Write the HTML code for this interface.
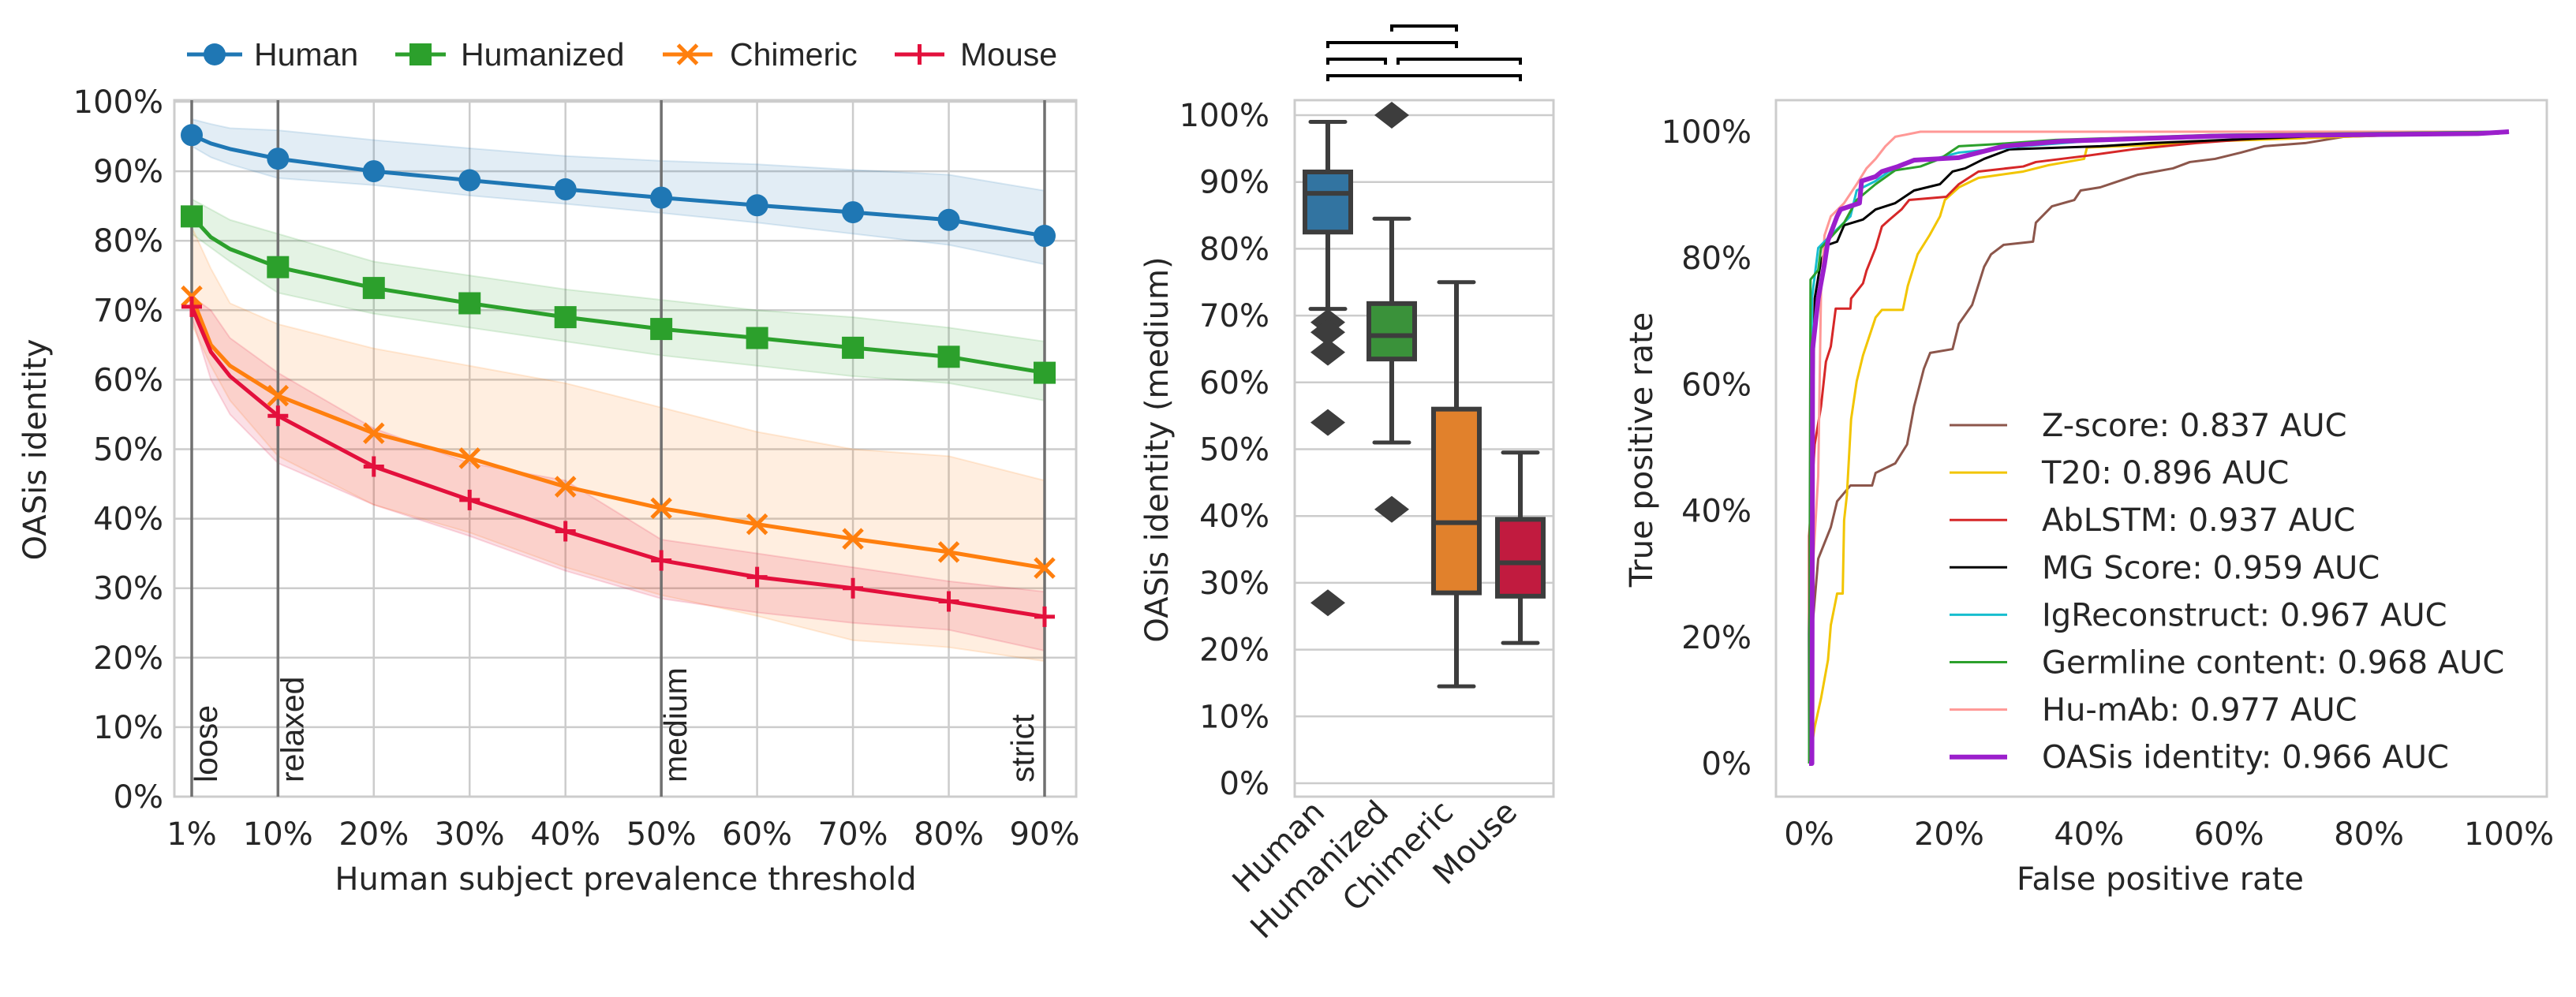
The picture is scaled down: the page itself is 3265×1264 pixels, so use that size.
<!DOCTYPE html>
<html><head><meta charset="utf-8"><style>
html,body{margin:0;padding:0;background:#fff;}
svg{display:block;}
.tk{font-family:"DejaVu Sans",sans-serif;font-size:40px;fill:#262626;}
.ar{font-family:"Liberation Sans",sans-serif;fill:#262626;}
</style></head><body>
<svg id="fig" width="3265" height="1264" viewBox="0 0 3265 1264" xmlns="http://www.w3.org/2000/svg"></svg>
<script>
// ---------- Panel 1 data ----------
const p1Thresholds = [1,3,5,10,20,30,40,50,60,70,80,90];
const p1Ticks = [1,10,20,30,40,50,60,70,80,90];
const p1TickLabels = ["1%","10%","20%","30%","40%","50%","60%","70%","80%","90%"];
const p1MarkerX = [1,10,20,30,40,50,60,70,80,90];
const p1YTicks = [0,10,20,30,40,50,60,70,80,90,100];
const humanMean = [95.2,94,93.2,91.8,90,88.7,87.4,86.2,85.1,84.1,83,80.7];
const humanUp   = [97.5,96.8,96.2,95.9,94.5,93.3,92.2,91.5,91,90.2,89.5,87.2];
const humanLo   = [93.6,92,91,89,88,86.5,85.3,84,82.6,81,79.4,76.6];
const humzMean = [83.5,80.5,78.8,76.2,73.2,71,69,67.3,66,64.6,63.3,61];
const humzUp   = [86,84.5,83,81,77,75,73,71.5,70,69,67.5,65.5];
const humzLo   = [81,79,77,72.5,69.5,67.5,65.5,63.5,62,60.5,59.5,57];
const chimMean = [72,65,62,57.7,52.3,48.7,44.6,41.5,39.2,37.1,35.2,32.9];
const chimUp   = [82,76,71,68,64.5,62,59.5,56,52.5,50,49,45.5];
const chimLo   = [68,62,57,49,42,38,33,29,26,22.5,21.5,19.5];
const mouseMean = [70.5,64,60.5,54.8,47.5,42.7,38.2,34,31.6,30,28.1,25.9];
const mouseUp   = [72,70,66,61,53,48,45.5,37,35,33,31,29.5];
const mouseLo   = [69,60,55,48,42,37.5,32.5,28.5,26.5,25,24,21];
const thresholdLines = [1,10,50,90];
const thresholdNames = ["loose","relaxed","medium","strict"];

// ---------- Panel 2 data ----------
const boxCats = ["Human","Humanized","Chimeric","Mouse"];
const boxQ1 = [82.5,63.5,28.5,28];
const boxMed = [88.3,67,39,33];
const boxQ3 = [91.5,71.8,56,39.5];
const boxLow = [71,51,14.5,21];
const boxHigh = [99,84.5,75,49.5];
const boxFliers = [[69,67.5,64.5,54,27],[100,41],[],[]];
const bracketFrom = [1,0,0,1,0];
const bracketTo = [2,2,1,3,3];
const bracketLevel = [0,1,2,2,3];

// ---------- Panel 3 data ----------
const rocNames = ["Z-score: 0.837 AUC","T20: 0.896 AUC","AbLSTM: 0.937 AUC","MG Score: 0.959 AUC","IgReconstruct: 0.967 AUC","Germline content: 0.968 AUC","Hu-mAb: 0.977 AUC","OASis identity: 0.966 AUC"];
const zFpr = [0,0.5,1.3,3.1,4,5.9,9,9.5,12.3,14,15,16.4,17.3,20.5,21.4,23.3,25,26,27.8,32,32.4,34.7,37.9,38.8,41.6,44.3,47,52,54.4,58,61.7,65,70.9,76.4,84.6,98.4,100];
const zTpr = [0,22,32.4,37.4,41.5,44,44,46,47.5,50.5,56.5,62.5,65,65.6,69.6,72.6,78.6,80.6,82.1,82.6,85.6,88.2,89.2,90.7,91.2,92.2,93.2,94.2,95.2,95.7,96.7,97.7,98.2,99.2,99.5,99.7,100];
const t20Fpr = [0,0.8,1.7,2.7,3.1,4,4.8,5,5.4,6,6.8,7.7,8.6,9.5,10.4,13.4,14.1,15.5,17.2,18.7,19.4,21.4,24.2,30.6,34.2,39.3,39.7,48.9,58,76.4,100];
const t20Tpr = [0,5.8,10.3,16.4,21.9,26.9,26.9,38.5,42.5,54.5,60.5,64.6,67.6,70.6,71.8,71.8,75.6,80.6,83.6,86.6,89.2,91.2,92.7,93.7,94.7,95.7,97.5,97.9,98.5,99.2,100];
const lstmFpr = [0,0,0.8,1.7,2.4,3.1,3.8,5.9,6,7.7,8.2,9.5,10.4,11.4,13.2,14.3,19.6,21.4,24.2,30.6,32.4,39.7,46.2,55.3,67.2,100];
const lstmTpr = [0,36,50.5,56.5,63.6,66,72,72,73.6,76,78,81.6,85,86,87.7,89.2,89.7,91.7,93.7,94.5,95.2,96.2,97.2,98.2,99.2,100];
const mgFpr = [0,0,0.4,0.8,1.7,2.7,4,5,7.7,9.5,12.3,15,18.7,20.5,22.3,25,28.6,41.6,48.9,76.4,100];
const mgTpr = [0,20.4,46.5,73.6,79.6,82.1,82.6,85.2,86.1,87.7,88.7,90.7,91.7,93.7,94.2,95.7,97.2,97.7,98.2,99.5,100];
const igFpr = [0,0.4,1.3,3.1,5.9,6.8,9.5,11.4,14.3,17.9,21.4,30.6,39.7,58,100];
const igTpr = [0,73.6,81.6,83.6,86.6,90.7,92.2,93.7,95.2,95.7,96.7,97.7,98.5,99.5,100];
const gerFpr = [0,0.2,1.3,1.7,5,6.8,9.5,12.3,15.9,18.7,21.4,26.2,35.2,58,100];
const gerTpr = [0,76.6,78.1,81.6,85.6,89.2,91.7,93.9,94.5,95.7,97.7,98,98.7,99.5,100];
const humabFpr = [0,0.5,1.3,1.7,2.2,3.1,5,6.8,8.2,9.5,10.9,12.3,15.9,100];
const humabTpr = [0,30.4,45.5,74.6,83.6,86.6,88.7,91.7,94.2,95.7,97.7,99.2,100,100];
const oasFpr = [0,0.4,0.5,1.3,2.2,2.7,4,4.5,7.2,7.5,9.5,10.4,12.7,15,21.4,27.8,36.1,58,95.6,100];
const oasTpr = [0,0,65.6,73.6,79.1,82.8,86.6,87.7,88.7,92.2,92.9,93.7,94.5,95.5,95.9,97.7,98.5,99.3,99.7,100];
const rocTicks = [0,20,40,60,80,100];

const NS="http://www.w3.org/2000/svg";
const fig=document.getElementById('fig');
function mk(tag,attrs,parent,text){const e=document.createElementNS(NS,tag);for(const k in attrs)e.setAttribute(k,attrs[k]);if(text!==undefined)e.textContent=text;(parent||fig).appendChild(e);return e;}

// ================= PANEL 1 =================
const g1=mk('g',{});


const P1={l:221,r:1364,t:127,b:1010};
const x1=v=>243+(v-1)/89*1081;
const y1=v=>1010-v/100*881;
p1YTicks.forEach(v=>{const l=mk('line',{x1:P1.l,x2:P1.r,y1:y1(v),y2:y1(v),stroke:'#cccccc','stroke-width':2.5},g1);


const t=mk('text',{x:P1.l-14,y:y1(v)+14,'text-anchor':'end',class:'tk'},g1,v+'%');

});
p1Ticks.forEach((v,i)=>{const l=mk('line',{x1:x1(v),x2:x1(v),y1:P1.t,y2:P1.b,stroke:'#cccccc','stroke-width':2.5},g1);


const t=mk('text',{x:x1(v),y:1071,'text-anchor':'middle',class:'tk'},g1,p1TickLabels[i]);

});
const fr1=mk('rect',{x:P1.l,y:P1.t,width:P1.r-P1.l,height:P1.b-P1.t,fill:'none',stroke:'#cccccc','stroke-width':3},g1);



const series=[
 {name:'Human',m:humanMean,u:humanUp,lo:humanLo,c:'#1f77b4',mk:'circle'},
 {name:'Humanized',m:humzMean,u:humzUp,lo:humzLo,c:'#2ca02c',mk:'square'},
 {name:'Chimeric',m:chimMean,u:chimUp,lo:chimLo,c:'#ff7f0e',mk:'x'},
 {name:'Mouse',m:mouseMean,u:mouseUp,lo:mouseLo,c:'#e3103c',mk:'plus'}];
series.forEach(s=>{
 let d='M'+p1Thresholds.map((v,i)=>x1(v)+','+y1(s.u[i])).join('L');
 for(let i=p1Thresholds.length-1;i>=0;i--)d+='L'+x1(p1Thresholds[i])+','+y1(s.lo[i]);
 const b=mk('path',{d:d+'Z',fill:s.c,'fill-opacity':0.13,stroke:s.c,'stroke-opacity':0.15,'stroke-width':2},g1);
 
 });
thresholdLines.forEach((v,i)=>{const l=mk('line',{x1:x1(v),x2:x1(v),y1:P1.t,y2:P1.b,stroke:'#707070','stroke-width':3.5},g1);


const tx=i===3?x1(v)-14:x1(v)+32;
const t=mk('text',{x:tx,y:992,class:'ar','font-size':41,fill:'#000',transform:'rotate(-90 '+tx+' 992)'},g1,thresholdNames[i]);

});
function marker(type,cx,cy,c,parent){
 if(type==='circle')return mk('circle',{cx,cy,r:14,fill:c},parent);
 if(type==='square')return mk('rect',{x:cx-14,y:cy-14,width:28,height:28,fill:c},parent);
 if(type==='x')return mk('path',{d:`M${cx-12},${cy-12}L${cx+12},${cy+12}M${cx-12},${cy+12}L${cx+12},${cy-12}`,stroke:c,'stroke-width':5,fill:'none'},parent);
 return mk('path',{d:`M${cx-13},${cy}L${cx+13},${cy}M${cx},${cy-13}L${cx},${cy+13}`,stroke:c,'stroke-width':5,fill:'none'},parent);}
series.forEach(s=>{
 const ln=mk('polyline',{points:p1Thresholds.map((v,i)=>x1(v)+','+y1(s.m[i])).join(' '),fill:'none',stroke:s.c,'stroke-width':5,'stroke-linejoin':'round'},g1);
 
 
 p1MarkerX.forEach(v=>{const i=p1Thresholds.indexOf(v);const m=marker(s.mk,x1(v),y1(s.m[i]),s.c,g1);
 
 });});
const yl1=mk('text',{x:58,y:570,class:'tk','text-anchor':'middle',transform:'rotate(-90 58 570)'},g1,'OASis identity');


const xl1=mk('text',{x:793,y:1128,class:'tk','text-anchor':'middle'},g1,'Human subject prevalence threshold');


const legX=[[237,307,322],[501,565,584],[840,903,925],[1134,1197,1217]];
series.forEach((s,i)=>{const lg=mk('g',{},g1);
 
 
 mk('line',{x1:legX[i][0],x2:legX[i][1],y1:69,y2:69,stroke:s.c,'stroke-width':5},lg);
 marker(s.mk,(legX[i][0]+legX[i][1])/2,69,s.c,lg);
 mk('text',{x:legX[i][2],y:83,class:'ar','font-size':41},lg,s.name);});

// ================= PANEL 2 =================
const g2=mk('g',{});


const P2={l:1641,r:1969,t:127,b:1010};
const y2=v=>993-v/100*847;
const xc=[1683,1764,1846,1927];
const boxColors=['#3274a1','#3a923a','#e1812c','#c11b3f'];
p1YTicks.forEach(v=>{const l=mk('line',{x1:P2.l,x2:P2.r,y1:y2(v),y2:y2(v),stroke:'#cccccc','stroke-width':2.5},g2);


const t=mk('text',{x:1609,y:y2(v)+14,'text-anchor':'end',class:'tk'},g2,v+'%');

});
const fr2=mk('rect',{x:P2.l,y:P2.t,width:P2.r-P2.l,height:P2.b-P2.t,fill:'none',stroke:'#cccccc','stroke-width':3},g2);


boxCats.forEach((c,i)=>{const bg=mk('g',{},g2);
 
 
 const x=xc[i],hw=29,ec='#3d3d3d';
 mk('line',{x1:x,x2:x,y1:y2(boxHigh[i]),y2:y2(boxQ3[i]),stroke:ec,'stroke-width':6},bg);
 mk('line',{x1:x,x2:x,y1:y2(boxQ1[i]),y2:y2(boxLow[i]),stroke:ec,'stroke-width':6},bg);
 mk('line',{x1:x-22,x2:x+22,y1:y2(boxHigh[i]),y2:y2(boxHigh[i]),stroke:ec,'stroke-width':5,'stroke-linecap':'round'},bg);
 mk('line',{x1:x-22,x2:x+22,y1:y2(boxLow[i]),y2:y2(boxLow[i]),stroke:ec,'stroke-width':5,'stroke-linecap':'round'},bg);
 mk('rect',{x:x-hw,y:y2(boxQ3[i]),width:2*hw,height:y2(boxQ1[i])-y2(boxQ3[i]),fill:boxColors[i],stroke:ec,'stroke-width':6},bg);
 mk('line',{x1:x-hw,x2:x+hw,y1:y2(boxMed[i]),y2:y2(boxMed[i]),stroke:ec,'stroke-width':6},bg);
 boxFliers[i].forEach(f=>{const fy=y2(f);const d=mk('path',{d:`M${x},${fy-17}L${x+22},${fy}L${x},${fy+17}L${x-22},${fy}Z`,fill:ec},bg);
 
 });
 const t=mk('text',{x:x-2,y:1032,'text-anchor':'end',class:'tk',transform:`rotate(-45 ${x-2} 1032)`},g2,c);
 
 });
const levelY=[33,54,75,96];
bracketFrom.forEach((f,i)=>{const yy=levelY[bracketLevel[i]];
 let xa=xc[f],xb=xc[bracketTo[i]];
 if(bracketLevel[i]===2){ if(f===0)xb-=8; else xa+=8; }
 const b=mk('path',{d:`M${xa},${yy+7}L${xa},${yy}L${xb},${yy}L${xb},${yy+7}`,fill:'none',stroke:'#000','stroke-width':4},g2);
 
 });
const yl2=mk('text',{x:1480,y:570,class:'tk','text-anchor':'middle',transform:'rotate(-90 1480 570)'},g2,'OASis identity (medium)');



// ================= PANEL 3 =================
const g3=mk('g',{});


const P3={l:2251,r:3228,t:127,b:1010};
const x3=v=>2293+v/100*887;
const y3=v=>968-v/100*801;
const fr3=mk('rect',{x:P3.l,y:P3.t,width:P3.r-P3.l,height:P3.b-P3.t,fill:'none',stroke:'#cccccc','stroke-width':3},g3);


rocTicks.forEach(v=>{const t=mk('text',{x:x3(v),y:1071,'text-anchor':'middle',class:'tk'},g3,v+'%');


const u=mk('text',{x:2220,y:y3(v)+14,'text-anchor':'end',class:'tk'},g3,v+'%');

});
const rocData=[[zFpr,zTpr],[t20Fpr,t20Tpr],[lstmFpr,lstmTpr],[mgFpr,mgTpr],[igFpr,igTpr],[gerFpr,gerTpr],[humabFpr,humabTpr],[oasFpr,oasTpr]];
const rocColors=['#8c564b','#f2c500','#d62728','#000000','#17becf','#2ca02c','#ff9896','#9b1fcc'];
const rocWidths=[3,3,3,3,3,3,3,6];
const drawOrder=[0,1,2,3,6,4,5,7];
drawOrder.forEach(i=>{const [fx,ty]=rocData[i];
 const p=mk('polyline',{points:fx.map((v,j)=>x3(v)+','+y3(ty[j])).join(' '),fill:'none',stroke:rocColors[i],'stroke-width':rocWidths[i],'stroke-linejoin':'round'},g3);
 
 });
rocNames.forEach((n,i)=>{const lg=mk('g',{},g3);
 
 
 const yy=539+i*60.1;
 mk('line',{x1:2471,x2:2544,y1:yy,y2:yy,stroke:rocColors[i],'stroke-width':rocWidths[i]},lg);
 mk('text',{x:2588,y:yy+14,class:'tk'},lg,n);});
const yl3=mk('text',{x:2094,y:570,class:'tk','text-anchor':'middle',transform:'rotate(-90 2094 570)'},g3,'True positive rate');


const xl3=mk('text',{x:2738,y:1128,class:'tk','text-anchor':'middle'},g3,'False positive rate');


</script>
</body></html>
